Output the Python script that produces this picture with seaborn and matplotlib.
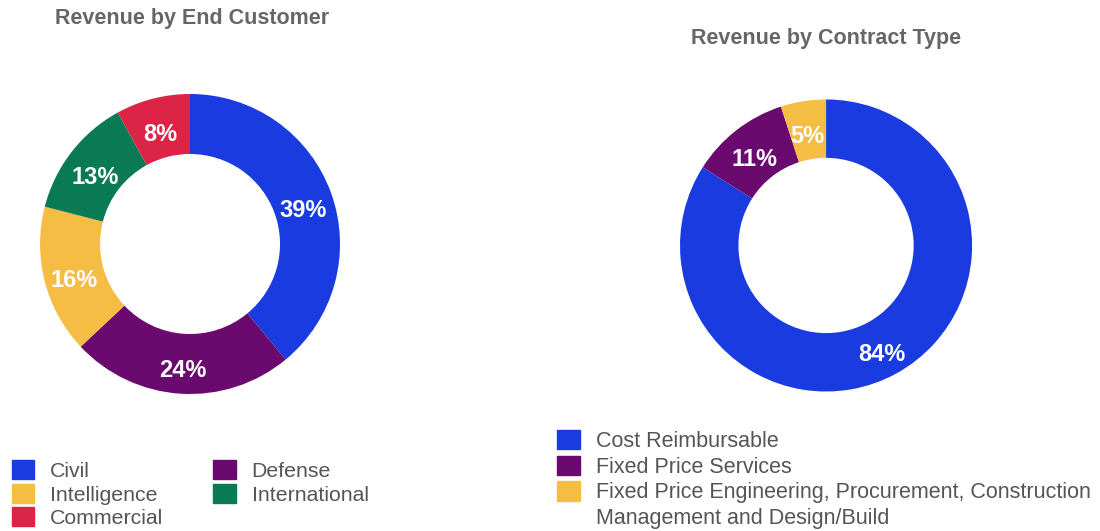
import matplotlib
matplotlib.use("Agg")
import matplotlib.pyplot as plt
import matplotlib.patches as mpatches
import seaborn as sns

# data
customer_labels = ["Civil", "Defense", "Intelligence", "International", "Commercial"]
customer_values = [39, 24, 16, 13, 8]
contract_labels = [
    "Cost Reimbursable",
    "Fixed Price Services",
    "Fixed Price Engineering, Procurement, Construction",
]
contract_label_cont = "Management and Design/Build"
contract_values = [84, 11, 5]

sns.set_theme(style="white")
plt.rcParams["font.family"] = ["Liberation Sans", "DejaVu Sans"]

colors = {
    "Civil": "#1a3be0",
    "Defense": "#6b0a6e",
    "Intelligence": "#f6bd44",
    "International": "#0a7a55",
    "Commercial": "#dc2446",
}
contract_colors = ["#1a3be0", "#6b0a6e", "#f6bd44"]
grey = "#555555"

fig = plt.figure(figsize=(11, 5.31), dpi=100)


def donut(ax, values, cols):
    wedges, texts, autotexts = ax.pie(
        values,
        colors=cols,
        startangle=90,
        counterclock=False,
        autopct="%d%%",
        pctdistance=0.8,
        wedgeprops={"width": 0.4, "linewidth": 0},
        textprops={"color": "white", "fontsize": 17, "fontweight": "bold"},
    )
    # labels sit a little lower in the original
    for t in autotexts:
        x, y = t.get_position()
        t.set_position((x, y - 0.045))
    ax.set_xlim(-1, 1)
    ax.set_ylim(-1, 1)
    ax.set_aspect("auto")
    ax.axis("off")


ax1 = fig.add_axes([0.0364, 0.258, 0.2727, 0.565])
donut(ax1, customer_values, [colors[c] for c in customer_labels])
fig.text(0.05, 0.966, "Revenue by End Customer", fontsize=15.5, fontweight="bold",
         color="#666666", va="center", ha="left")

ax2 = fig.add_axes([0.6182, 0.2627, 0.2655, 0.55])
donut(ax2, contract_values, contract_colors)
fig.text(0.751, 0.928, "Revenue by Contract Type", fontsize=15.5, fontweight="bold",
         color="#666666", va="center", ha="center")

# legends
order = ["Civil", "Intelligence", "Commercial", "Defense", "International"]
h1 = [mpatches.Patch(color=colors[c], label=c) for c in order]
fig.legend(handles=h1, ncol=2, loc="upper left", bbox_to_anchor=(0.0109, 0.133),
           frameon=False, fontsize=15.3, handlelength=1.05, handleheight=1.0,
           handletextpad=0.75, columnspacing=2.35, labelspacing=0.13,
           borderpad=0, borderaxespad=0, labelcolor=grey)

h2 = [mpatches.Patch(color=c, label=l) for c, l in zip(contract_colors, contract_labels)]
h2.append(mpatches.Patch(color="none", label=contract_label_cont))
fig.legend(handles=h2, loc="upper left", bbox_to_anchor=(0.5064, 0.19),
           frameon=False, fontsize=15.5, handlelength=1.05, handleheight=1.0,
           handletextpad=0.75, labelspacing=0.17,
           borderpad=0, borderaxespad=0, labelcolor=grey)

fig.savefig("out.png", dpi=100)
